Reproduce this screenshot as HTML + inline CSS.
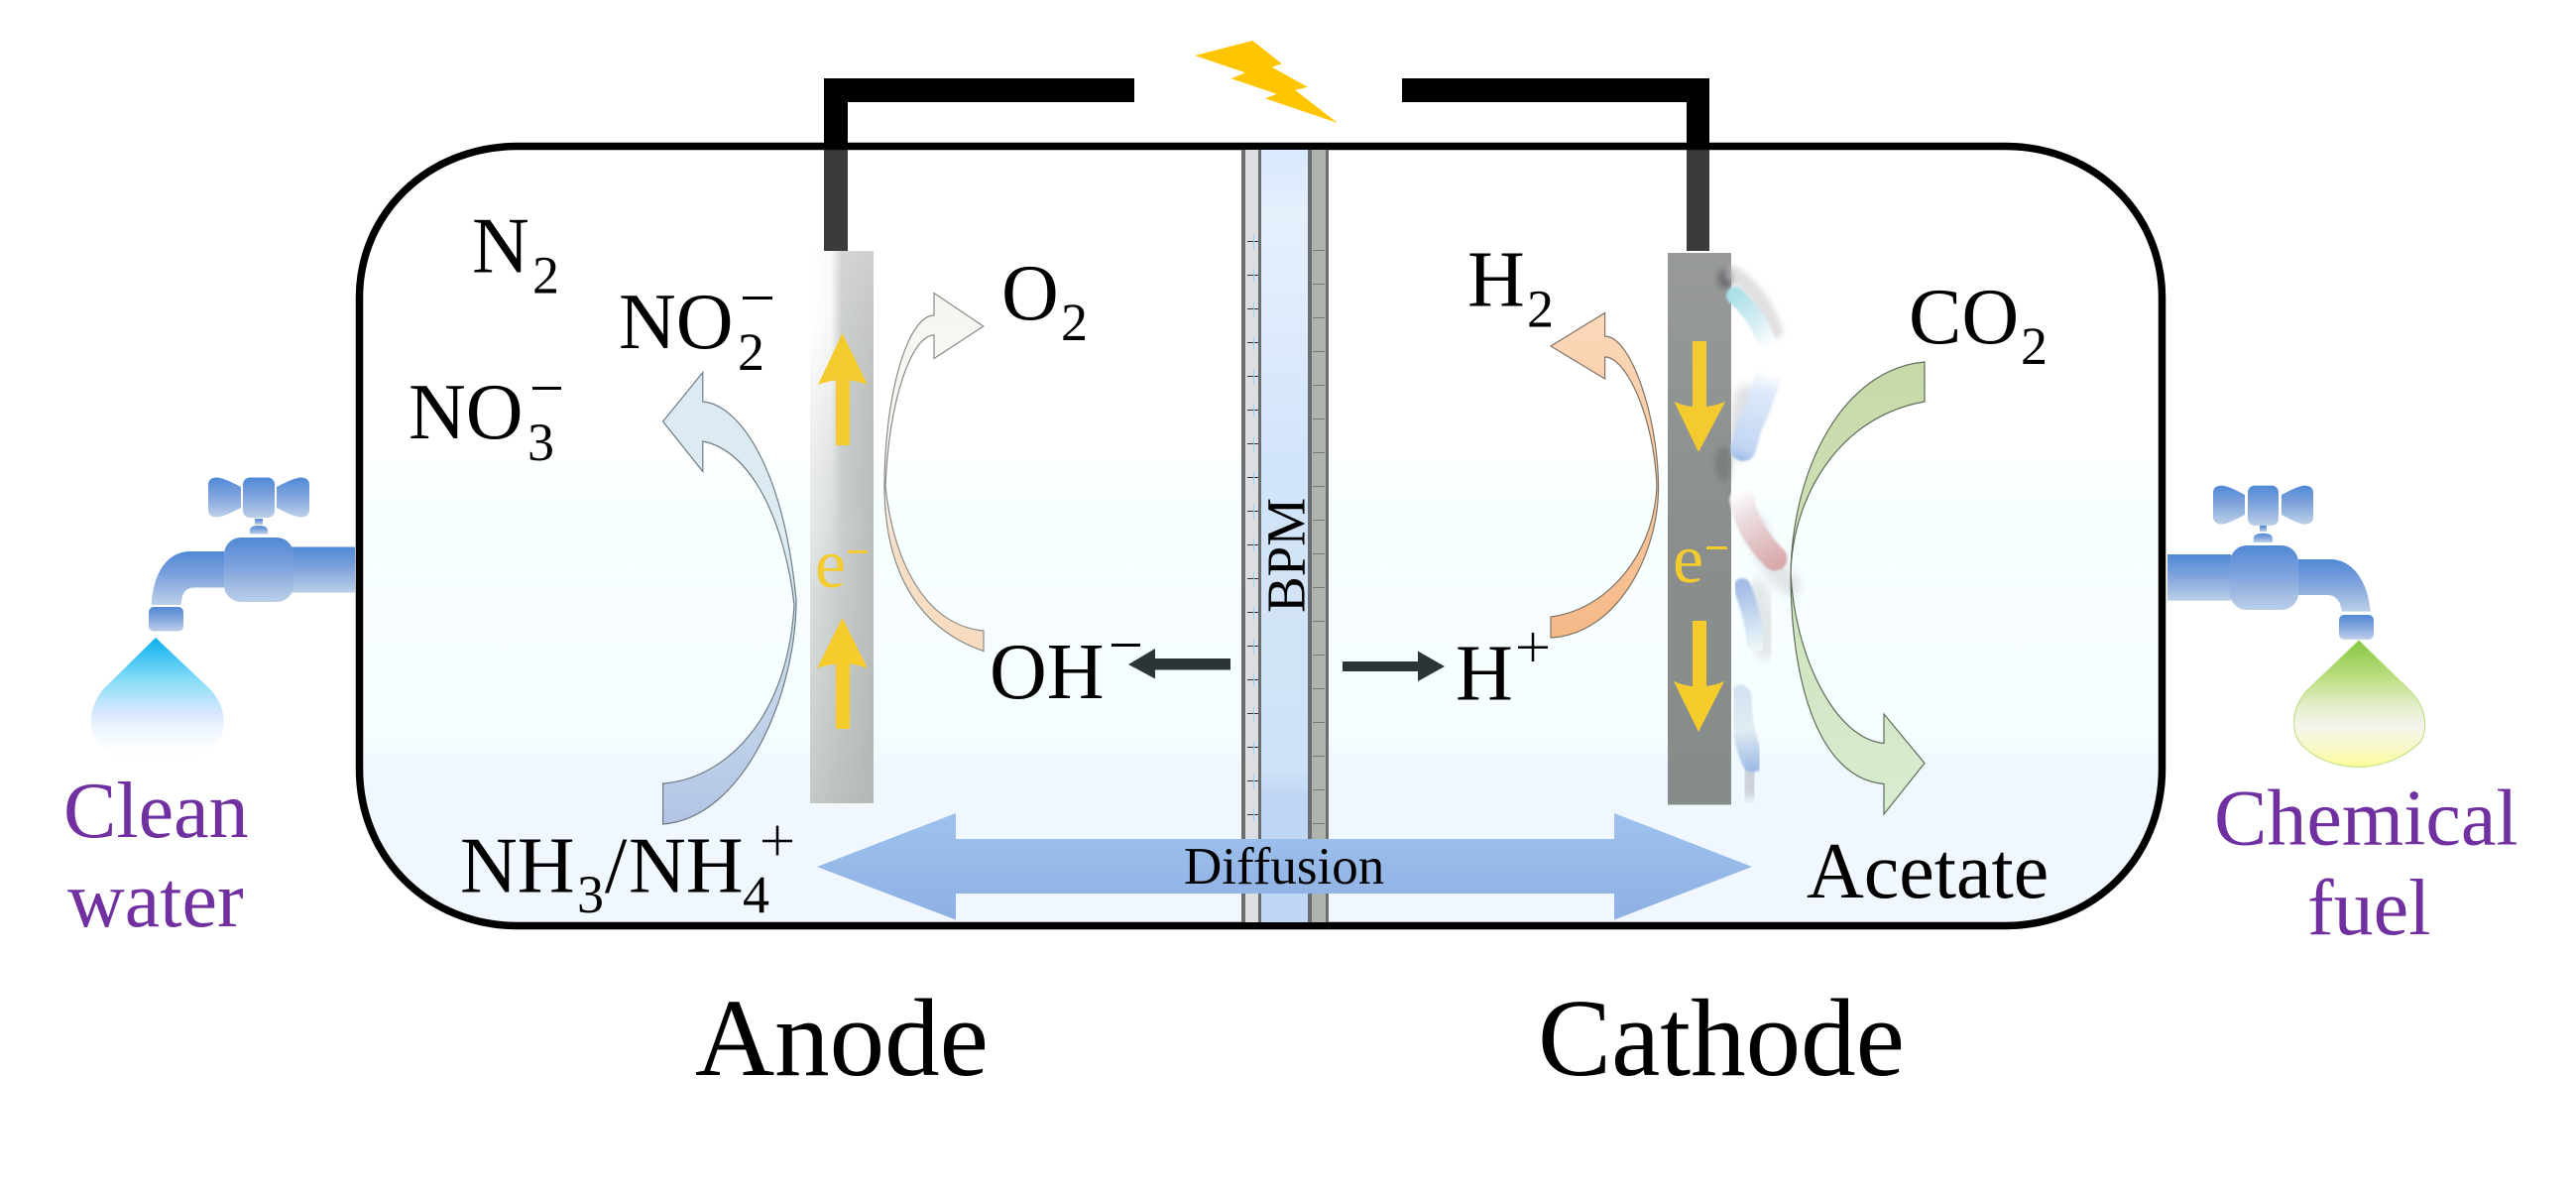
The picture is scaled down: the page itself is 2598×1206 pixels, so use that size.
<!DOCTYPE html>
<html>
<head>
<meta charset="utf-8">
<style>
html,body{margin:0;padding:0;background:#fff;width:2598px;height:1206px;overflow:hidden}
svg{display:block}
text{font-family:"Liberation Serif",serif;fill:#000}
.l{font-size:80px}
.s{font-size:54px}
.p{font-size:80px;fill:#7030a0}
.big{font-size:111px}
.e{font-size:70px;fill:#f4cb2e}
</style>
</head>
<body>
<svg width="2598" height="1206" viewBox="0 0 2598 1206" xmlns="http://www.w3.org/2000/svg">
<defs>
<linearGradient id="tank" gradientUnits="userSpaceOnUse" x1="0" y1="147" x2="0" y2="934">
<stop offset="0" stop-color="#fff"/><stop offset="0.385" stop-color="#fff"/><stop offset="0.46" stop-color="#f8ffff"/><stop offset="0.745" stop-color="#f7feff"/><stop offset="0.795" stop-color="#f0f7ff"/><stop offset="1" stop-color="#f0f7ff"/>
</linearGradient>
<linearGradient id="f" x1="0" y1="0" x2="0" y2="1">
<stop offset="0" stop-color="#5089d6"/><stop offset="0.45" stop-color="#7ea2dc"/><stop offset="1" stop-color="#bccfe8"/>
</linearGradient>
<linearGradient id="d1" x1="0" y1="0" x2="0" y2="1">
<stop offset="0" stop-color="#0aaeee"/><stop offset="0.35" stop-color="#8fdff8"/><stop offset="0.58" stop-color="#d6e6fe"/><stop offset="0.7" stop-color="#eef6ff"/><stop offset="0.85" stop-color="#fbfdff"/><stop offset="1" stop-color="#fff"/>
</linearGradient>
<linearGradient id="d2" x1="0" y1="0" x2="0" y2="1">
<stop offset="0" stop-color="#84c540"/><stop offset="0.3" stop-color="#bcdf84"/><stop offset="0.52" stop-color="#e4eecb"/><stop offset="0.68" stop-color="#f5f5ee"/><stop offset="0.85" stop-color="#f8f8c8"/><stop offset="1" stop-color="#fdfd98"/>
</linearGradient>
<linearGradient id="el1h" x1="0" y1="0" x2="1" y2="0">
<stop offset="0" stop-color="#dfe3e3"/><stop offset="0.45" stop-color="#ccd0d0"/><stop offset="1" stop-color="#b8bcba"/>
</linearGradient>
<linearGradient id="el1v" x1="0" y1="0" x2="0" y2="1">
<stop offset="0" stop-color="#d8d8da" stop-opacity="0.7"/><stop offset="0.5" stop-color="#b8bcb8" stop-opacity="0"/><stop offset="1" stop-color="#b0b4ae" stop-opacity="0.55"/>
</linearGradient>
<linearGradient id="el1w" gradientUnits="userSpaceOnUse" x1="817" y1="0" x2="849" y2="0">
<stop offset="0" stop-color="#fff"/><stop offset="0.65" stop-color="#fff" stop-opacity="0.85"/><stop offset="1" stop-color="#fff" stop-opacity="0"/>
</linearGradient>
<linearGradient id="el1m" gradientUnits="userSpaceOnUse" x1="0" y1="253" x2="0" y2="600">
<stop offset="0" stop-color="#fff"/><stop offset="0.2" stop-color="#fff"/><stop offset="1" stop-color="#000"/>
</linearGradient>
<mask id="el1mask" maskUnits="userSpaceOnUse" x="817" y="253" width="64" height="360">
<rect x="817" y="253" width="64" height="360" fill="url(#el1m)"/>
</mask>
<linearGradient id="el2" x1="0" y1="0" x2="0" y2="1">
<stop offset="0" stop-color="#979a99"/><stop offset="0.5" stop-color="#8a8f8e"/><stop offset="1" stop-color="#868c89"/>
</linearGradient>
<linearGradient id="a1" gradientUnits="userSpaceOnUse" x1="0" y1="375" x2="0" y2="831">
<stop offset="0" stop-color="#dce9f4"/><stop offset="0.4" stop-color="#dcecf0"/><stop offset="0.55" stop-color="#cfdfee"/><stop offset="1" stop-color="#b2c5e4"/>
</linearGradient>
<linearGradient id="a2" gradientUnits="userSpaceOnUse" x1="0" y1="295" x2="0" y2="657">
<stop offset="0" stop-color="#f6f6f1"/><stop offset="0.55" stop-color="#f8f8f4"/><stop offset="0.7" stop-color="#f6dfc8"/><stop offset="1" stop-color="#f7dcc0"/>
</linearGradient>
<linearGradient id="a3" gradientUnits="userSpaceOnUse" x1="0" y1="315" x2="0" y2="643">
<stop offset="0" stop-color="#fcd8ba"/><stop offset="1" stop-color="#f6b988"/>
</linearGradient>
<linearGradient id="a4" gradientUnits="userSpaceOnUse" x1="0" y1="365" x2="0" y2="821">
<stop offset="0" stop-color="#c8d9a8"/><stop offset="0.5" stop-color="#cfe2bc"/><stop offset="1" stop-color="#d8edd2"/>
</linearGradient>
<linearGradient id="dif" gradientUnits="userSpaceOnUse" x1="0" y1="820" x2="0" y2="928">
<stop offset="0" stop-color="#9ec2ee"/><stop offset="1" stop-color="#8fb0e3"/>
</linearGradient>
<linearGradient id="bpmc" gradientUnits="userSpaceOnUse" x1="0" y1="151" x2="0" y2="930">
<stop offset="0" stop-color="#d8e8fe"/><stop offset="0.08" stop-color="#e6effc"/><stop offset="0.2" stop-color="#e0ecfc"/><stop offset="0.4" stop-color="#d2e4fc"/><stop offset="0.55" stop-color="#d2e4f6"/><stop offset="0.8" stop-color="#cfe2f8"/><stop offset="0.84" stop-color="#bfd6f4"/><stop offset="1" stop-color="#c0d8f4"/>
</linearGradient>
<linearGradient id="b1" gradientUnits="userSpaceOnUse" x1="1743" y1="297" x2="1785" y2="345">
<stop offset="0" stop-color="#a8e0e6"/><stop offset="0.65" stop-color="#d8eef4"/><stop offset="1" stop-color="#fbfdff"/>
</linearGradient>
<linearGradient id="b2" gradientUnits="userSpaceOnUse" x1="1782" y1="375" x2="1755" y2="465">
<stop offset="0" stop-color="#fff"/><stop offset="0.2" stop-color="#dfeafa"/><stop offset="0.85" stop-color="#c2d6f2"/><stop offset="1" stop-color="#9bb8e6"/>
</linearGradient>
<linearGradient id="b3" gradientUnits="userSpaceOnUse" x1="1753" y1="495" x2="1792" y2="570">
<stop offset="0" stop-color="#fff"/><stop offset="0.3" stop-color="#ecdfe2"/><stop offset="1" stop-color="#d8a8aa"/>
</linearGradient>
<linearGradient id="b4" gradientUnits="userSpaceOnUse" x1="1758" y1="590" x2="1770" y2="655">
<stop offset="0" stop-color="#a4bce6"/><stop offset="0.6" stop-color="#cfe0f2"/><stop offset="1" stop-color="#eef8f8"/>
</linearGradient>
<linearGradient id="b5" gradientUnits="userSpaceOnUse" x1="1755" y1="695" x2="1768" y2="775">
<stop offset="0" stop-color="#d4e2f2"/><stop offset="0.5" stop-color="#e0ecf2"/><stop offset="1" stop-color="#a0bce6"/>
</linearGradient>
<filter id="bl1" x="-50%" y="-50%" width="200%" height="200%"><feGaussianBlur stdDeviation="1"/></filter>
<filter id="bl3" x="-50%" y="-50%" width="200%" height="200%"><feGaussianBlur stdDeviation="3"/></filter>
<filter id="bl5" x="-50%" y="-50%" width="200%" height="200%"><feGaussianBlur stdDeviation="5"/></filter>
</defs>

<!-- wires above -->
<path d="M831 253V79H1144V103H855V253Z" fill="#000"/>
<path d="M1414 79H1724V253H1701V103H1414Z" fill="#000"/>
<!-- bolt -->
<path d="M1205 56L1263.3 41L1292.7 64.3L1282.7 67.7L1319 87.7L1306 90.7L1349 124L1276 99.3L1287.7 94.7L1241.7 79.3L1256 73.3Z" fill="#ffc600"/>

<!-- tank -->
<path d="M522 147.5H2022C2112 147.5 2180.5 215 2180.5 300V775C2180.5 865 2112 933.5 2022 933.5H522C432 933.5 362.5 865 362.5 775V300C362.5 215 432 147.5 522 147.5Z" fill="url(#tank)"/>
<rect x="831" y="151" width="24" height="102" fill="#3a3c3c"/>
<rect x="1701" y="151" width="23" height="102" fill="#3a3c3c"/>
<path d="M522 147.5H2022C2112 147.5 2180.5 215 2180.5 300V775C2180.5 865 2112 933.5 2022 933.5H522C432 933.5 362.5 865 362.5 775V300C362.5 215 432 147.5 522 147.5Z" fill="none" stroke="#000" stroke-width="7.5"/>

<!-- BPM -->
<g>
<rect x="1252" y="151" width="88" height="779" fill="#6a6e70"/>
<rect x="1256" y="151" width="13" height="779" fill="#dcdee2"/>
<rect x="1272" y="151" width="47" height="779" fill="url(#bpmc)"/>
<rect x="1323" y="151" width="14" height="779" fill="#aeb3ae"/>
<g stroke="#333" stroke-width="1">
<path d="M1258 243.5h11M1258 277.5h11M1258 311.5h11M1258 345.5h11M1258 379.5h11M1258 413.5h11M1258 447.5h11M1258 481.5h11M1258 515.5h11M1258 549.5h11M1258 583.5h11M1258 617.5h11M1258 651.5h11M1258 685.5h11M1258 719.5h11M1258 753.5h11M1258 787.5h11M1258 821.5h11"/>
</g>
<g stroke="#8ed8f4" stroke-width="1">
<path d="M1264.5 237v14M1264.5 271v14M1264.5 305v14M1264.5 339v14M1264.5 373v14M1264.5 407v14M1264.5 441v14M1264.5 475v14M1264.5 509v14M1264.5 543v14M1264.5 577v14M1264.5 611v14M1264.5 645v14M1264.5 679v14M1264.5 713v14M1264.5 747v14M1264.5 781v14M1264.5 815v14"/>
</g>
<g stroke="#777" stroke-width="1">
<path d="M1324 252.5h12M1324 286.5h12M1324 320.5h12M1324 354.5h12M1324 388.5h12M1324 422.5h12M1324 456.5h12M1324 490.5h12M1324 524.5h12M1324 558.5h12M1324 592.5h12M1324 626.5h12M1324 660.5h12M1324 694.5h12M1324 728.5h12M1324 762.5h12M1324 796.5h12M1324 830.5h12"/>
</g>
</g>
<text transform="translate(1315.5 618) rotate(-90)" font-size="55">BPM</text>

<!-- anode -->
<rect x="817" y="253" width="64" height="557" fill="url(#el1h)"/>
<rect x="817" y="253" width="64" height="557" fill="url(#el1v)"/>
<rect x="817" y="253" width="32" height="360" fill="url(#el1w)" mask="url(#el1mask)"/>
<path d="M849.5 336L875 388Q850 378 825 388Z" fill="#f4cb2e"/>
<rect x="843" y="375" width="14" height="74" fill="#f4cb2e"/>
<path d="M849.5 623L875 674Q850 664 824 674Z" fill="#f6cc2c"/>
<rect x="843" y="662" width="14" height="73" fill="#f6cc2c"/>
<text class="e" x="822" y="592">e</text>
<rect x="855" y="555" width="20" height="3" fill="#f4cb2e"/>

<!-- cathode -->
<rect x="1682" y="255" width="64" height="556.5" fill="url(#el2)"/>
<ellipse cx="1740" cy="281" rx="8" ry="10" fill="#5c5a62" opacity="0.65" filter="url(#bl3)"/>
<ellipse cx="1738" cy="468" rx="8" ry="18" fill="#5e6464" opacity="0.4" filter="url(#bl3)"/>
<rect x="1707" y="344" width="14" height="70" fill="#f4cb2e"/>
<path d="M1688.5 405Q1713 416 1740 405L1713 456Z" fill="#f4cb2e"/>
<text class="e" x="1687" y="587">e</text>
<rect x="1721" y="551" width="21" height="3" fill="#f4cb2e"/>
<rect x="1707" y="626" width="14" height="70" fill="#f6cc2c"/>
<path d="M1688 687Q1713 698 1739 687L1713 738Z" fill="#f6cc2c"/>

<!-- bacteria -->
<path d="M1748 276Q1776 294 1790 334" stroke="#c9c6c6" stroke-width="16" fill="none" stroke-linecap="round" opacity="0.55" filter="url(#bl3)"/>
<path d="M1750 298Q1770 316 1781 342" stroke="url(#b1)" stroke-width="18" fill="none" stroke-linecap="round" filter="url(#bl1)"/>
<path d="M1762 400Q1752 430 1752 450" stroke="#b8bcc4" stroke-width="24" fill="none" stroke-linecap="round" opacity="0.45" filter="url(#bl5)"/>
<path d="M1784 378Q1774 410 1764 430Q1760 445 1758 452" stroke="url(#b2)" stroke-width="26" fill="none" stroke-linecap="round" filter="url(#bl1)"/>
<path d="M1770 530Q1785 575 1805 590" stroke="#bdbdc4" stroke-width="22" fill="none" stroke-linecap="round" opacity="0.4" filter="url(#bl5)"/>
<path d="M1757 504Q1762 535 1790 563" stroke="url(#b3)" stroke-width="25" fill="none" stroke-linecap="round" filter="url(#bl1)"/>
<path d="M1772 595Q1785 625 1780 655" stroke="#c0c2c6" stroke-width="20" fill="none" stroke-linecap="round" opacity="0.4" filter="url(#bl5)"/>
<path d="M1757 592Q1768 620 1771 648" stroke="url(#b4)" stroke-width="18" fill="none" stroke-linecap="round" filter="url(#bl1)"/>
<path d="M1762 765Q1770 785 1765 795" stroke="#a8acb0" stroke-width="22" fill="none" stroke-linecap="round" opacity="0.5" filter="url(#bl5)"/>
<path d="M1755 702Q1756 740 1768 767" stroke="url(#b5)" stroke-width="23" fill="none" stroke-linecap="round" filter="url(#bl1)"/>

<!-- curved arrows -->
<path d="M668.6 425L708.8 375.5V405C745 408 790 470 803 605C803 700 750 825 668.6 831V790C735 785 795 720 801 610C792 530 760 455 708.8 445V475.5Z" fill="url(#a1)" stroke="#6e7c84" stroke-width="1.2"/>
<path d="M991.8 329L942 295.5V318C915 318 892 400 892 490C892 560 915 630 992 656.5V636C930 630 900 560 893 490C897 400 920 338 942 338V361.5Z" fill="url(#a2)" stroke="#8a8a86" stroke-width="1.2"/>
<path d="M1564 349L1618.6 315.5V339C1645 339 1672 420 1672.6 490C1673 560 1630 640 1564 643V622C1620 615 1668 560 1671 490C1668 420 1640 360 1618.6 360V382Z" fill="url(#a3)" stroke="#7e7468" stroke-width="1.2"/>
<path d="M1941 365C1860 372 1808 470 1806 578C1806 690 1835 785 1900 790.5V821L1941 769.5L1900 720V749.5C1850 745 1810 660 1806 578C1808 500 1855 420 1941 405Z" fill="url(#a4)" stroke="#5e6c5a" stroke-width="1.2"/>

<!-- black arrows -->
<path d="M1138 670L1165 654V664H1241V675.5H1165V684.5Z" fill="#2c3438"/>
<path d="M1457 672L1430 656.5V667H1354V677H1430V687Z" fill="#2c3438"/>

<!-- diffusion -->
<path d="M824 874L964 820V846H1628V820L1767 874L1628 927.5V901H964V927.5Z" fill="url(#dif)"/>
<text x="1194" y="891" font-size="53">Diffusion</text>

<!-- left faucet -->
<g fill="url(#f)">
<path d="M218 481.5Q224 481 243 491V512Q224 522 218 521.5Q210 521 210 514V489Q210 482 218 481.5Z"/>
<rect x="245" y="481.5" width="32" height="40.5" rx="7"/>
<path d="M304 481.5Q298 481 279 491V512Q298 522 304 521.5Q312 521 312 514V489Q312 482 304 481.5Z"/>
<rect x="257" y="523" width="8" height="6"/>
<path d="M252 538.5V535Q252 530 261 530Q270 530 270 535V538.5Z"/>
<rect x="293" y="551.5" width="65" height="46"/>
<path d="M226 556H192C170 556 155 575 152.7 610H182.7C183 600 186 592.5 196 592.5H226Z"/>
<rect x="226" y="542" width="70" height="65" rx="17"/>
<rect x="150" y="612" width="35" height="24.5" rx="5"/>
</g>
<path d="M157 643L212 695C226 710 229 730 222 745C205 765 180 773 157 773C134 773 110 765 96 745C88 730 92 710 104 695Z" fill="url(#d1)"/>

<!-- right faucet -->
<g fill="url(#f)">
<path d="M2240 489.6Q2246 489 2264 499V519Q2246 529 2240 528.6Q2232 528 2232 521V497Q2232 490 2240 489.6Z"/>
<rect x="2267" y="489.6" width="31" height="40.4" rx="7"/>
<path d="M2325 489.6Q2319 489 2301 499V519Q2319 529 2325 528.6Q2333 528 2333 521V497Q2333 490 2325 489.6Z"/>
<rect x="2279" y="530" width="7" height="6"/>
<path d="M2272.7 547V543Q2272.7 537.7 2282 537.7Q2292 537.7 2292 543V547Z"/>
<rect x="2186" y="559" width="64" height="46.7"/>
<path d="M2318 564H2350C2372 564 2388 585 2390.7 616.6H2362C2360 606 2356 600 2346.7 600H2318Z"/>
<rect x="2249" y="550" width="69" height="65" rx="17"/>
<rect x="2359" y="620" width="35" height="24.7" rx="5"/>
</g>
<path d="M2379 645.7L2431 697C2446 712 2449 732 2442 747C2425 765 2400 773.4 2379 773.4C2356 773.4 2332 765 2318 747C2310 732 2313 712 2326 697Z" fill="url(#d2)" stroke="#b8dc80" stroke-width="1"/>

<!-- labels -->
<text class="l" x="476" y="274.5">N</text><text class="s" x="537" y="295.5">2</text>
<text class="l" x="624" y="351">NO</text><text class="s" x="744" y="373">2</text><rect x="749" y="299" width="30" height="3"/>
<text class="l" x="412" y="442">NO</text><text class="s" x="532" y="464">3</text><rect x="537" y="390" width="29" height="3"/>
<text class="l" x="1010" y="322">O</text><text class="s" x="1070" y="343">2</text>
<text class="l" x="1480" y="308.5">H</text><text class="s" x="1540" y="329.5">2</text>
<text class="l" x="1925" y="346">CO</text><text class="s" x="2038" y="367">2</text>
<text class="l" x="998" y="704">OH</text><rect x="1121" y="649" width="29" height="3"/>
<text class="l" x="1468" y="705.5">H</text>
<path d="M1546 638V667M1531 652.7H1561" stroke="#000" stroke-width="2.5" fill="none"/>
<text class="l" x="464" y="899.6">NH</text><text class="s" x="582" y="920">3</text><text class="l" x="610" y="899.6">/</text><text class="l" x="634" y="899.6">NH</text><text class="s" x="749" y="920.6">4</text>
<path d="M784 832.6V862.4M769 848H799" stroke="#000" stroke-width="2.5" fill="none"/>
<text class="l" x="1822" y="905">Acetate</text>
<text class="big" x="701" y="1084">Anode</text>
<text class="big" x="1551" y="1084">Cathode</text>
<text class="p" x="64" y="844">Clean</text>
<text class="p" x="68" y="934">water</text>
<text class="p" x="2233" y="851.6">Chemical</text>
<text class="p" x="2327" y="942">fuel</text>
</svg>
</body>
</html>
